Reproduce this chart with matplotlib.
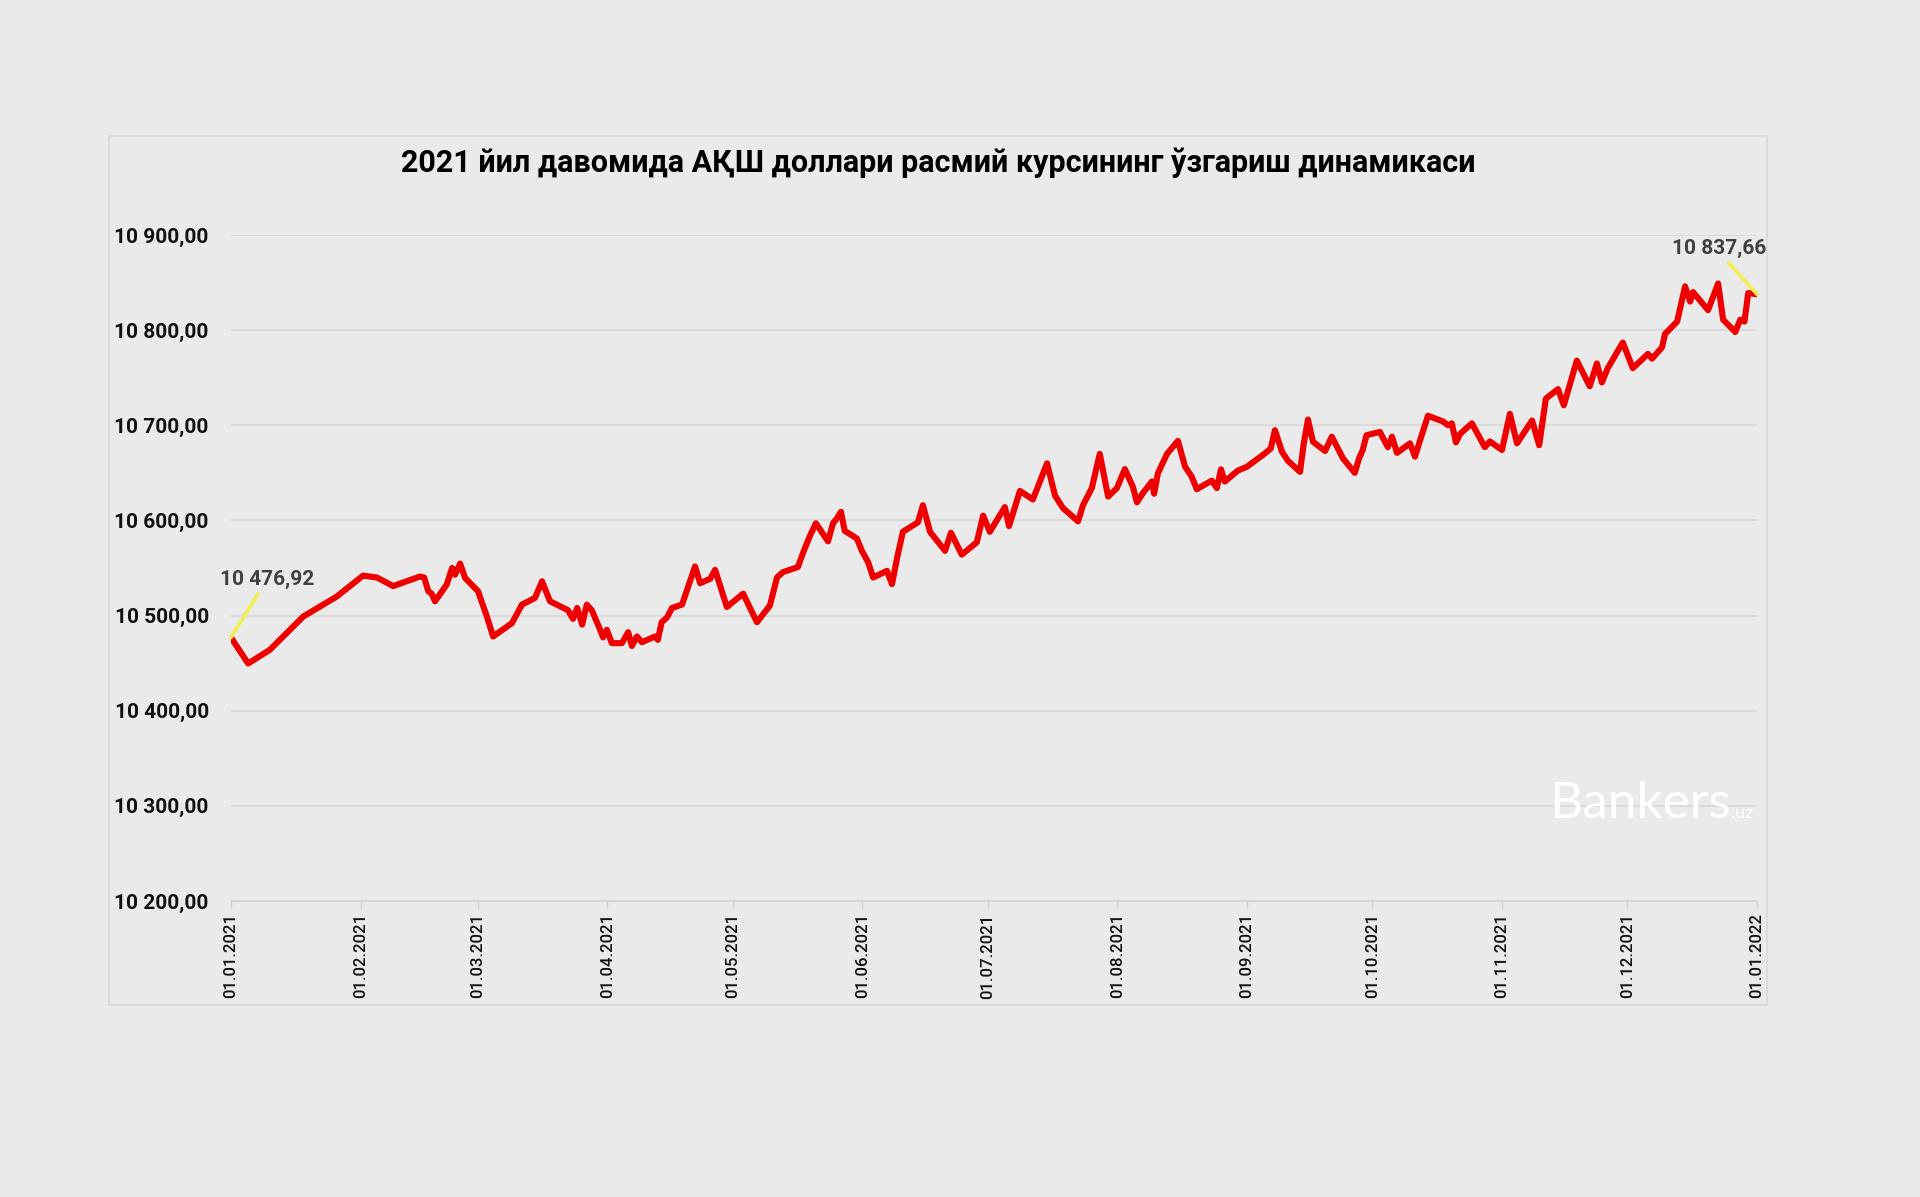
#!/usr/bin/env python

import numpy as np
import pandas as pd
import matplotlib
matplotlib.use("Agg")
import matplotlib.pyplot as plt
import matplotlib.dates as mdates
from matplotlib.ticker import FuncFormatter, MultipleLocator
from matplotlib.patches import Rectangle

# Official USD rate (UZS); x = days since 01.01.2021
days = [
    0, 4.1, 9.3, 17.3, 25.3, 31.6, 34.9, 38.8, 45.2, 46.2, 47.2, 48.0, 48.8,
    51.6, 52.9, 53.6, 54.8, 56.0, 59.1, 61.2, 62.7, 67.2, 69.6, 72.7, 74.4,
    76.3, 80.6, 81.8, 82.8, 84.0, 85.1, 86.3, 88.3, 89.0, 89.9, 91.1, 93.5,
    95.0, 95.9, 97.1, 98.3, 101.4, 102.1, 103.0, 104.3, 105.5, 107.9, 111.0,
    112.2, 114.6, 115.8, 118.6, 122.5, 125.8, 128.9, 130.6, 132.0, 135.6,
    136.9, 138.5, 139.9, 142.8, 144.0, 144.9, 145.9, 146.8, 149.7, 150.9,
    152.4, 153.6, 156.9, 158.1, 159.3, 160.7, 164.3, 165.5, 167.2, 170.8,
    172.2, 174.8, 178.4, 179.9, 181.5, 185.1, 186.1, 188.7, 191.8, 195.2,
    197.1, 199.0, 202.6, 203.8, 205.9, 207.8, 209.8, 211.9, 213.8, 215.7,
    216.7, 218.1, 220.3, 220.8, 221.7, 223.9, 226.5, 228.2, 229.8, 231.0,
    234.6, 235.8, 236.8, 237.7, 240.8, 243.0, 247.3, 248.7, 249.7, 251.4,
    252.8, 255.7, 256.6, 257.6, 258.8, 261.7, 263.3, 266.0, 268.8, 269.8,
    270.7, 271.6, 274.8, 276.7, 277.7, 278.9, 282.0, 283.2, 284.4, 286.3,
    289.9, 291.1, 292.0, 293.0, 294.0, 296.8, 299.9, 301.1, 304.0, 305.9,
    307.6, 311.2, 312.9, 314.5, 317.4, 318.8, 321.9, 325.0, 326.7, 327.9,
    329.3, 332.9, 335.3, 338.9, 339.9, 342.3, 343.0, 345.9, 347.8, 349.0,
    349.7, 353.3, 355.7, 356.9, 359.8, 361.0, 362.0, 362.9, 365.0,
]
rates = [
    10476.92, 10449.6, 10464, 10499, 10520, 10542, 10540, 10531, 10541, 10540,
    10525.5, 10523, 10515, 10532.5, 10550, 10543, 10554.6, 10539.5, 10525.5,
    10499, 10478, 10492, 10511.5, 10518.5, 10536, 10515, 10505.6, 10496.5,
    10508, 10490.5, 10511.5, 10505.6, 10485, 10477, 10485, 10471, 10471,
    10482.5, 10468, 10478, 10472, 10478, 10474.4, 10493, 10498, 10508,
    10511.6, 10551.6, 10534, 10538.6, 10548, 10509, 10523, 10493, 10510.5,
    10540, 10545.6, 10551, 10566.7, 10584, 10597, 10578, 10597, 10602, 10609,
    10589, 10581, 10568, 10556, 10540, 10547, 10533, 10560, 10588, 10598,
    10616, 10588, 10568, 10587, 10564, 10577, 10605, 10588, 10614, 10594,
    10631, 10622, 10660, 10626, 10613, 10599, 10616, 10634, 10670, 10625,
    10634, 10654, 10635.5, 10619, 10628.6, 10641, 10628, 10649.5, 10670,
    10683.6, 10656.5, 10646, 10632.8, 10641.8, 10634, 10653.7, 10640.8,
    10652.3, 10656.4, 10670.4, 10675.6, 10694.8, 10672, 10662.7, 10651, 10681,
    10706, 10682.6, 10673, 10688, 10665, 10650, 10665, 10674, 10689.5, 10693,
    10677, 10688, 10671, 10681, 10667, 10684, 10710, 10704, 10700, 10702,
    10682, 10691, 10702, 10677, 10683, 10674, 10712, 10681, 10705, 10679,
    10728, 10738, 10721, 10768, 10741, 10765, 10745, 10760, 10787, 10760,
    10775, 10770, 10782, 10796, 10809, 10846, 10830, 10840, 10821, 10849,
    10811, 10798, 10811, 10809, 10839, 10837.66,
]

title = "2021 йил давомида АҚШ доллари расмий курсининг ўзгариш динамикаси"
start_label = "10 476,92"
end_label = "10 837,66"

dates = pd.Timestamp("2021-01-01") + pd.to_timedelta(days, unit="D")

BG = "#EAEAEA"
FONT = ["Roboto", "DejaVu Sans"]
plt.rcParams["font.family"] = FONT

fig = plt.figure(figsize=(19.2, 11.97), dpi=100, facecolor=BG)
ax = fig.add_axes([0.1203, 0.2473, 0.7948, 0.5564], facecolor=BG)

# chart area frame
fig.patches.append(Rectangle((109 / 1920, 1 - 1005 / 1197), 1658 / 1920, 869 / 1197,
                             transform=fig.transFigure, fill=False,
                             edgecolor="#D8D8D8", linewidth=1.2))

ax.plot(dates, rates, color="#EE0000", linewidth=4.4,
        solid_joinstyle="round", solid_capstyle="round", zorder=3)

ax.set_xlim(pd.Timestamp("2021-01-01"), pd.Timestamp("2022-01-01"))
ax.set_ylim(10200, 10900)
ax.yaxis.set_major_locator(MultipleLocator(100))
ax.yaxis.set_major_formatter(FuncFormatter(
    lambda v, _: f"{v:,.2f}".replace(",", " ").replace(".", ",")))
ax.xaxis.set_major_locator(mdates.MonthLocator())
ax.xaxis.set_major_formatter(mdates.DateFormatter("%d.%m.%Y"))

ax.grid(axis="y", color="#D6D6D6", linewidth=1.1)
ax.set_axisbelow(True)
for s in ["top", "right", "left"]:
    ax.spines[s].set_visible(False)
ax.spines["bottom"].set_color("#D0D0D0")
ax.spines["bottom"].set_linewidth(1.1)

ax.tick_params(axis="y", length=0, pad=16, labelsize=15, labelcolor="#111111")
ax.tick_params(axis="x", length=5, width=1, color="#D0D0D0", pad=4,
               labelsize=12, labelcolor="#111111", labelrotation=90)
for lab in ax.get_yticklabels():
    lab.set_fontweight("bold")
for lab in ax.get_xticklabels():
    lab.set_fontweight("medium")

# start / end value callouts
ax.annotate(start_label, xy=(dates[0], rates[0]), xytext=(26, 42),
            textcoords="offset points", ha="center", va="center",
            fontsize=15, fontweight="bold", color="#404040",
            arrowprops=dict(arrowstyle="-", color="#F2EE4E", lw=2.6,
                            shrinkA=2, shrinkB=0))
ax.annotate(end_label, xy=(dates[-1], rates[-1]), xytext=(-27, 33),
            textcoords="offset points", ha="center", va="center",
            fontsize=15, fontweight="bold", color="#404040",
            arrowprops=dict(arrowstyle="-", color="#F2EE4E", lw=2.6,
                            shrinkA=2, shrinkB=0,
                            relpos=(0.55, 0.0)))

fig.text(938 / 1920, 1 - 163 / 1197, title, ha="center", va="center",
         fontsize=22, fontweight="bold", color="#000000")

# watermark
fig.text(1549 / 1920, 1 - 818 / 1197, "Bankers", ha="left", va="baseline",
         fontsize=37, fontweight="normal", color="white",
         family=["Lato", "DejaVu Sans"])
fig.text(1731 / 1920, 1 - 818 / 1197, ".uz", ha="left", va="baseline",
         fontsize=13, fontweight="normal", color="white",
         family=["Lato", "DejaVu Sans"])

fig.savefig("out.png", dpi=100, facecolor=BG)
